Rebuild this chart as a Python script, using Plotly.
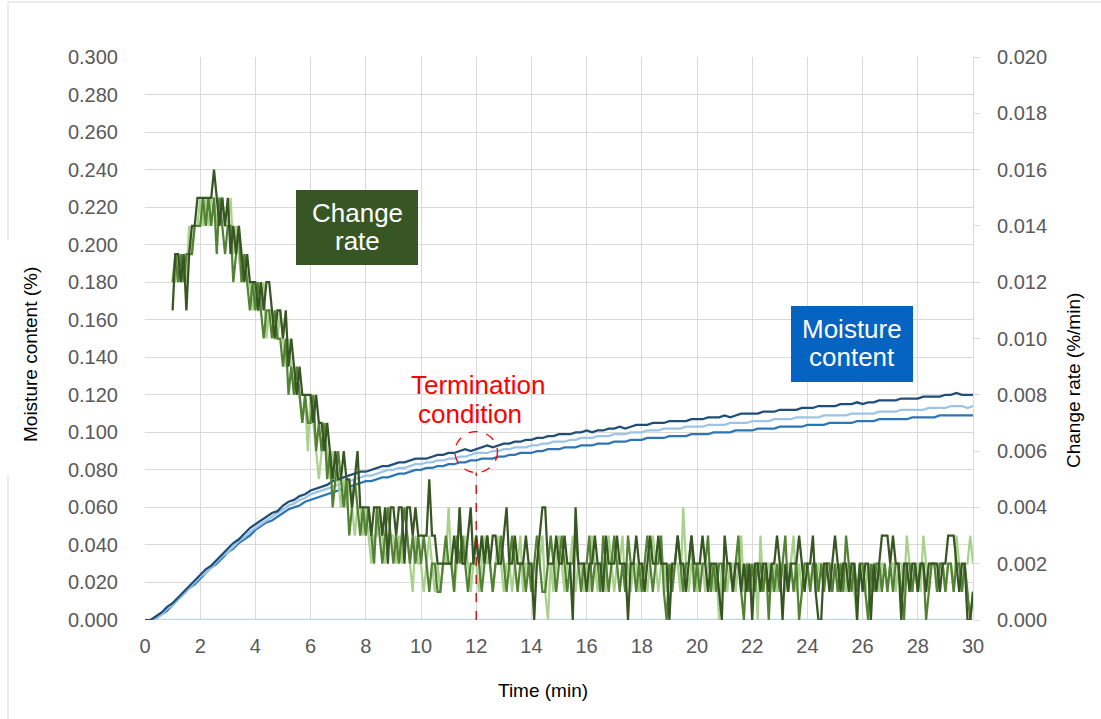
import plotly.graph_objects as go

# ---- time axes (min) ----
t_moist = [round(i * 0.2, 1) for i in range(151)]          # 0.0 .. 30.0
t_rate = [round(1.0 + i * 0.1, 1) for i in range(291)]     # 1.0 .. 30.0

# ---- moisture content, in units of 0.001 % ----
moist_a = [
    0, 0, 2, 4, 7, 9, 12, 15, 18, 21,
    24, 27, 29, 32, 35, 38, 41, 43, 46, 49,
    51, 53, 55, 57, 58, 61, 63, 64, 66, 67,
    69, 70, 71, 72, 74, 75, 76, 77, 78, 79,
    79, 80, 81, 82, 82, 83, 84, 84, 85, 86,
    86, 86, 87, 88, 88, 89, 89, 90, 91, 90,
    91, 92, 93, 92, 93, 94, 94, 95, 95, 96,
    96, 97, 97, 98, 98, 99, 99, 99, 100, 100,
    101, 100, 101, 101, 102, 102, 103, 102, 103, 104,
    104, 104, 105, 105, 105, 106, 106, 106, 106, 107,
    107, 107, 108, 108, 108, 109, 108, 109, 110, 110,
    110, 110, 111, 111, 111, 112, 112, 112, 112, 113,
    113, 113, 114, 114, 114, 114, 115, 115, 115, 116,
    115, 116, 116, 117, 117, 117, 117, 118, 118, 118,
    118, 119, 119, 119, 119, 120, 120, 121, 120, 120,
    120,
]
moist_b = [
    0, 0, 1, 3, 6, 8, 11, 14, 17, 20,
    23, 25, 28, 31, 34, 36, 39, 42, 44, 47,
    49, 51, 53, 55, 57, 59, 61, 62, 64, 65,
    67, 68, 69, 70, 71, 72, 73, 74, 75, 76,
    77, 77, 78, 79, 80, 80, 81, 81, 82, 83,
    83, 84, 84, 85, 85, 86, 86, 87, 87, 88,
    89, 89, 89, 90, 90, 91, 91, 92, 92, 92,
    93, 93, 94, 94, 95, 95, 95, 96, 96, 97,
    97, 97, 98, 98, 98, 99, 99, 99, 100, 100,
    100, 101, 101, 101, 102, 102, 102, 102, 103, 103,
    103, 103, 104, 104, 104, 104, 105, 105, 105, 105,
    106, 106, 106, 106, 107, 107, 107, 107, 108, 108,
    108, 108, 108, 109, 109, 109, 109, 109, 110, 110,
    110, 110, 110, 111, 111, 111, 111, 112, 112, 112,
    112, 112, 113, 113, 113, 113, 114, 114, 114, 113,
    114,
]
moist_c = [
    0, 0, 1, 3, 5, 8, 11, 14, 17, 19,
    22, 25, 28, 30, 33, 36, 38, 41, 43, 45,
    48, 50, 52, 53, 55, 57, 59, 60, 61, 63,
    64, 65, 66, 67, 68, 69, 70, 71, 72, 73,
    74, 74, 75, 76, 76, 77, 78, 78, 79, 80,
    80, 81, 81, 82, 82, 83, 83, 84, 84, 85,
    85, 86, 86, 86, 87, 87, 88, 88, 89, 89,
    89, 90, 90, 91, 91, 91, 92, 92, 92, 93,
    93, 93, 94, 94, 94, 95, 95, 95, 96, 96,
    96, 97, 97, 97, 97, 98, 98, 98, 98, 99,
    99, 99, 99, 100, 100, 100, 100, 101, 101, 101,
    101, 102, 102, 102, 102, 103, 103, 103, 103, 103,
    104, 104, 104, 104, 105, 105, 105, 105, 105, 106,
    106, 106, 106, 107, 107, 107, 107, 107, 107, 108,
    108, 108, 108, 108, 109, 109, 109, 109, 109, 109,
    109,
]

# ---- change rate, in units of 0.001 %/min ----
rate_dark = [
    11, 13, 13, 12, 13, 11, 13, 14, 14, 15,
    15, 15, 15, 15, 15, 16, 15, 14, 15, 14,
    15, 13, 14, 13, 14, 13, 12, 13, 12, 12,
    12, 11, 12, 11, 12, 12, 11, 10, 11, 11,
    10, 11, 9, 10, 9, 8, 9, 8, 8, 8,
    8, 7, 8, 7, 7, 6, 7, 6, 5, 6,
    5, 5, 6, 5, 5, 4, 5, 6, 4, 4,
    4, 4, 3, 4, 4, 4, 3, 4, 2, 4,
    4, 3, 4, 4, 2, 4, 4, 3, 4, 3,
    3, 3, 3, 5, 3, 3, 2, 2, 2, 2,
    2, 2, 3, 2, 4, 2, 2, 3, 4, 2,
    3, 2, 3, 2, 3, 2, 3, 3, 2, 2,
    3, 4, 2, 2, 3, 2, 2, 2, 3, 2,
    2, 0, 2, 3, 4, 4, 2, 2, 2, 3,
    2, 2, 3, 2, 2, 0, 4, 2, 2, 2,
    1, 2, 2, 3, 2, 2, 1, 3, 2, 2,
    2, 3, 2, 2, 2, 0, 2, 2, 3, 2,
    2, 1, 2, 3, 2, 2, 3, 2, 2, 2,
    0, 2, 2, 3, 2, 2, 1, 2, 3, 2,
    2, 2, 3, 2, 1, 2, 2, 2, 1, 0,
    3, 2, 2, 1, 2, 2, 1, 2, 1, 2,
    0, 2, 2, 1, 2, 2, 1, 2, 2, 3,
    2, 0, 2, 1, 2, 2, 2, 3, 2, 1,
    2, 2, 3, 1, 0, 0, 2, 2, 1, 2,
    3, 2, 1, 2, 2, 1, 2, 2, 0, 2,
    1, 2, 2, 0, 2, 1, 2, 3, 3, 3,
    2, 3, 2, 2, 0, 2, 2, 1, 2, 2,
    1, 2, 2, 1, 2, 2, 2, 2, 1, 2,
    2, 3, 3, 3, 2, 1, 2, 2, 0, 0,
    1,
]
rate_mid = [
    12, 13, 12, 13, 12, 13, 13, 13, 14, 14,
    14, 15, 14, 15, 14, 15, 13, 15, 14, 13,
    14, 14, 12, 13, 14, 12, 13, 12, 11, 12,
    11, 12, 11, 10, 11, 11, 10, 11, 10, 10,
    9, 10, 8, 9, 8, 9, 8, 7, 8, 7,
    7, 8, 6, 7, 6, 7, 5, 6, 4, 5,
    6, 5, 4, 5, 3, 4, 5, 4, 3, 4,
    3, 4, 3, 2, 4, 3, 2, 3, 4, 3,
    2, 3, 2, 3, 4, 3, 2, 3, 2, 3,
    2, 3, 2, 1, 2, 2, 1, 1, 2, 3,
    2, 2, 1, 3, 2, 3, 2, 1, 2, 2,
    3, 2, 1, 2, 3, 2, 1, 2, 2, 3,
    2, 1, 2, 3, 2, 1, 2, 2, 1, 2,
    1, 2, 3, 2, 1, 1, 2, 3, 2, 1,
    2, 3, 2, 1, 2, 2, 3, 2, 1, 2,
    2, 3, 1, 2, 2, 1, 3, 2, 1, 2,
    3, 2, 1, 2, 1, 3, 2, 2, 1, 2,
    1, 2, 3, 2, 1, 2, 2, 3, 1, 0,
    2, 1, 2, 3, 2, 1, 2, 2, 3, 1,
    2, 1, 2, 2, 3, 1, 2, 1, 2, 2,
    1, 2, 2, 1, 2, 3, 1, 0, 2, 1,
    2, 1, 2, 2, 1, 2, 0, 2, 1, 2,
    1, 2, 3, 1, 2, 1, 2, 0, 1, 2,
    2, 1, 2, 2, 1, 2, 1, 2, 2, 1,
    2, 1, 2, 1, 3, 2, 1, 2, 1, 2,
    2, 1, 0, 2, 1, 2, 2, 1, 2, 1,
    2, 1, 2, 2, 1, 0, 2, 2, 1, 2,
    1, 2, 2, 0, 1, 2, 2, 1, 2, 2,
    1, 2, 2, 1, 2, 2, 1, 2, 1, 0,
    1,
]
rate_light = [
    12, 12, 13, 12, 13, 12, 14, 13, 14, 14,
    15, 14, 15, 14, 15, 15, 14, 15, 15, 14,
    14, 15, 13, 14, 13, 12, 13, 12, 12, 11,
    12, 11, 11, 12, 10, 11, 11, 10, 10, 11,
    10, 9, 10, 9, 8, 9, 8, 7, 8, 6,
    8, 7, 6, 5, 6, 7, 6, 5, 6, 5,
    5, 4, 5, 4, 5, 4, 3, 4, 4, 3,
    4, 3, 2, 3, 3, 4, 3, 2, 3, 3,
    3, 2, 3, 2, 3, 3, 2, 1, 3, 2,
    2, 1, 2, 3, 2, 1, 2, 1, 2, 2,
    4, 2, 1, 2, 4, 2, 3, 2, 1, 2,
    2, 1, 2, 3, 2, 2, 1, 2, 3, 2,
    1, 2, 2, 1, 2, 2, 3, 1, 2, 2,
    2, 1, 2, 2, 3, 1, 0, 2, 1, 2,
    3, 2, 1, 2, 2, 3, 1, 2, 2, 1,
    2, 1, 3, 2, 1, 2, 2, 1, 3, 2,
    1, 2, 2, 3, 1, 2, 1, 2, 2, 1,
    2, 2, 1, 2, 3, 2, 1, 2, 2, 1,
    2, 1, 2, 2, 1, 4, 2, 1, 2, 2,
    1, 2, 2, 1, 2, 2, 1, 2, 0, 2,
    2, 1, 2, 2, 1, 2, 3, 1, 2, 2,
    1, 2, 0, 3, 1, 2, 2, 1, 2, 1,
    2, 2, 1, 2, 2, 3, 1, 2, 1, 2,
    2, 1, 2, 1, 2, 2, 1, 2, 2, 1,
    2, 1, 2, 2, 1, 2, 2, 1, 0, 2,
    2, 1, 2, 1, 2, 2, 1, 2, 2, 1,
    2, 2, 1, 2, 2, 1, 3, 2, 1, 2,
    2, 1, 3, 2, 1, 2, 2, 1, 2, 2,
    1, 2, 2, 1, 3, 2, 1, 2, 2, 3,
    2,
]

baseline_t = [0, 30]
baseline_v = [0, 0]

x_ticks = list(range(0, 31, 2))
left_ticks = [round(i * 0.02, 3) for i in range(16)]
right_ticks = [round(i * 0.002, 3) for i in range(11)]

MOIST_UNIT = 0.001
RATE_UNIT = 0.001

FONT = "Arial, Liberation Sans, sans-serif"
GRID = "#D9D9D9"
TICK_COL = "#595959"
TICK_SIZE = 20
TITLE_SIZE = 19
LABEL_SIZE = 26

fig = go.Figure()

# moisture content curves (primary axis)
fig.add_trace(go.Scatter(x=baseline_t, y=baseline_v, mode="lines",
                         line=dict(color="#BDD7EE", width=2.5), yaxis="y"))
for vals, col in [(moist_c, "#2E75B6"), (moist_b, "#9DC3E6"), (moist_a, "#1F4E79")]:
    fig.add_trace(go.Scatter(x=t_moist, y=[v * MOIST_UNIT for v in vals], mode="lines",
                             line=dict(color=col, width=2.25), yaxis="y"))

# change rate curves (secondary axis)
for vals, col in [(rate_light, "#A9D18E"), (rate_mid, "#548235"), (rate_dark, "#375623")]:
    fig.add_trace(go.Scatter(x=t_rate, y=[v * RATE_UNIT for v in vals], mode="lines",
                             line=dict(color=col, width=2.25), yaxis="y2"))

W, H = 1101, 719
L, R, T, B = 145, 973, 57, 620


def px(xp):
    return (xp - L) / (R - L)


def py(yp):
    return (B - yp) / (B - T)


fig.update_layout(
    width=W, height=H,
    margin=dict(l=L, r=W - R, t=T, b=H - B),
    paper_bgcolor="white", plot_bgcolor="white",
    showlegend=False,
    font=dict(family=FONT, size=TICK_SIZE, color=TICK_COL),
    xaxis=dict(range=[0, 30], tickvals=x_ticks, ticktext=[str(v) for v in x_ticks],
               showgrid=True, gridcolor=GRID, gridwidth=1, zeroline=False,
               showline=False, ticks="", ticklabelstandoff=12,
               tickfont=dict(size=TICK_SIZE, color=TICK_COL)),
    yaxis=dict(range=[0, 0.3], tickvals=left_ticks,
               ticktext=[f"{v:.3f}" for v in left_ticks],
               showgrid=True, gridcolor=GRID, gridwidth=1, zeroline=False,
               showline=False, ticks="", ticklabelstandoff=26,
               tickfont=dict(size=TICK_SIZE, color=TICK_COL)),
    yaxis2=dict(range=[0, 0.02], tickvals=right_ticks,
                ticktext=[f"{v:.3f}" for v in right_ticks],
                overlaying="y", side="right", showgrid=False, zeroline=False,
                showline=True, linecolor=GRID, linewidth=1,
                ticks="outside", ticklen=6, tickcolor=GRID, ticklabelstandoff=13,
                tickfont=dict(size=TICK_SIZE, color=TICK_COL)),
)

shapes = [
    # chart frame edges
    dict(type="line", xref="paper", yref="paper", x0=px(8), x1=px(1101), y0=py(2), y1=py(2),
         line=dict(color=GRID, width=1)),
    dict(type="line", xref="paper", yref="paper", x0=px(8), x1=px(8), y0=py(2), y1=py(240),
         line=dict(color=GRID, width=1)),
    dict(type="line", xref="paper", yref="paper", x0=px(8), x1=px(8), y0=py(475), y1=py(719),
         line=dict(color=GRID, width=1)),
    # label boxes
    dict(type="rect", xref="paper", yref="paper", x0=px(296), x1=px(418), y0=py(265), y1=py(190),
         fillcolor="#375623", line=dict(width=0), layer="above"),
    dict(type="rect", xref="paper", yref="paper", x0=px(791), x1=px(913), y0=py(382), y1=py(306),
         fillcolor="#0563C1", line=dict(width=0), layer="above"),
    # termination marker
    dict(type="circle", xref="x", yref="y", x0=12.0 - 0.77, x1=12.0 + 0.77,
         y0=0.0895 - 0.0109, y1=0.0895 + 0.0109,
         line=dict(color="#FF0000", width=1.3, dash="dash")),
    dict(type="line", xref="x", yref="y", x0=12.0, x1=12.0, y0=0.0, y1=0.0895 - 0.0109,
         line=dict(color="#C00000", width=1.3, dash="dash")),
]
fig.update_layout(shapes=shapes)


def label(xp, yp, text, size, color, angle=0):
    return dict(xref="paper", yref="paper", x=px(xp), y=py(yp), text=text,
                textangle=angle, showarrow=False, xanchor="center", yanchor="middle",
                font=dict(family=FONT, size=size, color=color))


annotations = [
    label(30, 355, "Moisture content (%)", TITLE_SIZE, "black", -90),
    label(1073, 381, "Change rate (%/min)", TITLE_SIZE, "black", -90),
    label(543, 690, "Time (min)", TITLE_SIZE, "black"),
    label(357, 213, "Change", LABEL_SIZE, "white"),
    label(357, 241, "rate", LABEL_SIZE, "white"),
    label(852, 329, "Moisture", LABEL_SIZE, "white"),
    label(852, 357, "content", LABEL_SIZE, "white"),
    label(478, 385, "Termination", LABEL_SIZE, "#FF0000"),
    label(470, 414, "condition", LABEL_SIZE, "#FF0000"),
]
fig.update_layout(annotations=annotations)

fig.write_html("out.html")
